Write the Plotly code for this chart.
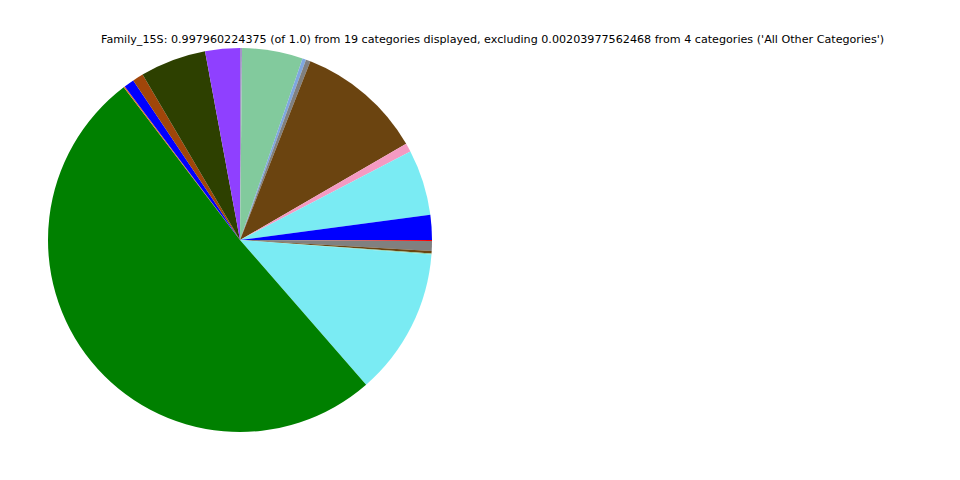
import plotly.graph_objects as go

# Displayed categories (clockwise from 12 o'clock) and their shares
categories = [
    "Cat 01", "Cat 02", "Cat 03", "Cat 04", "Cat 05", "Cat 06", "Cat 07",
    "Cat 08", "Cat 09", "Cat 10", "Cat 11", "Cat 12", "Cat 13", "Cat 14",
    "Cat 15", "Cat 16", "Cat 17", "Cat 18", "Cat 19",
]
shares = [
    0.0017, 0.0510, 0.0030, 0.0039, 0.1065, 0.0072, 0.0552,
    0.0208, 0.0008, 0.0083, 0.0022, 0.0008, 0.1236, 0.5092,
    0.0011, 0.0086, 0.0091, 0.0554, 0.0291,
]
colors = [
    "#A593C9", "#82CA9D", "#7FA7DF", "#808080", "#6B4410", "#F49AC2", "#7AEBF3",
    "#0000FF", "#FF0000", "#808080", "#6B4410", "#82CA9D", "#7AEBF3", "#008000",
    "#E07020", "#0000FF", "#A0460A", "#2D4000", "#8F40FF",
]

title_text = ("Family_15S: 0.997960224375 (of 1.0) from 19 categories displayed, "
              "excluding 0.00203977562468 from 4 categories ('All Other Categories')")

fig = go.Figure(go.Pie(
    labels=categories,
    values=shares,
    marker=dict(colors=colors, line=dict(width=0)),
    sort=False,
    direction="clockwise",
    rotation=0,
    textinfo="none",
    showlegend=False,
    domain=dict(x=[48 / 960, 432 / 960], y=[48 / 480, 432 / 480]),
))

fig.add_annotation(
    text=title_text,
    x=492.5 / 960, y=1 - 39 / 480,
    xref="paper", yref="paper",
    xanchor="center", yanchor="middle",
    showarrow=False,
    font=dict(family="DejaVu Sans", size=11.15, color="black"),
)

fig.update_layout(
    width=960, height=480,
    margin=dict(l=0, r=0, t=0, b=0),
    paper_bgcolor="white",
    plot_bgcolor="white",
)

fig.write_html("out.html")
